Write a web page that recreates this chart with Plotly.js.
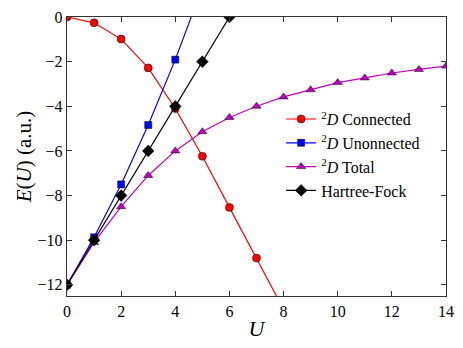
<!DOCTYPE html>
<html>
<head>
<meta charset="utf-8">
<script src="https://cdn.plot.ly/plotly-3.0.1.min.js"></script>
<style>
  body { margin: 0; background: #fff; }
  #grafico { width: 463px; height: 348px; }
</style>
</head>
<body>
<div id="grafico"></div>
<script>
  // valores
  let U = [0, 1, 2, 3, 4, 5, 6, 7, 8, 9, 10, 11, 12, 13, 14];

  let uConectado = [0, 1, 2, 3, 4, 5, 6, 7, 8];
  let eConectado = [0, -0.26, -0.99, -2.28, -4.1, -6.24, -8.53, -10.8, -13.1];

  let uNoConectado = [0, 1, 2, 3, 4, 5];
  let eNoConectado = [-12, -9.87, -7.5, -4.84, -1.91, 1.33];

  let eTotal = [-12, -10.1, -8.5, -7.1, -6.0, -5.14, -4.5, -4.0, -3.58, -3.26, -2.94, -2.73, -2.51, -2.35, -2.2];

  let uHF = [0, 1, 2, 3, 4, 5, 6];
  let eHF = [-12, -10, -8, -6, -4, -2, 0];

  let xTicks = [0, 2, 4, 6, 8, 10, 12, 14];
  let yTicks = [0, -2, -4, -6, -8, -10, -12];

  let fuente = '"Liberation Serif", "Times New Roman", serif';

  function traza(x, y, nombre, color, simbolo, tam) {
    return {
      x: x,
      y: y,
      mode: 'lines+markers',
      type: 'scatter',
      name: nombre,
      line: { color: color, width: 1.2 },
      marker: { color: color, symbol: simbolo, size: tam, line: { color: '#000', width: 0.5 } }
    };
  }

  let trazas = [
    traza(uConectado, eConectado, '<sup>2</sup><i>D</i> Connected', '#ff0000', 'circle', 8),
    traza(uNoConectado, eNoConectado, '<sup>2</sup><i>D</i> Unonnected', '#0000ff', 'square', 7),
    traza(U, eTotal, '<sup>2</sup><i>D</i> Total', '#bf00bf', 'triangle-up', 8),
    traza(uHF, eHF, 'Hartree-Fock', '#000000', 'diamond', 9)
  ];

  let ejeBase = {
    showline: true,
    linecolor: '#333',
    linewidth: 1.3,
    mirror: 'ticks',
    ticks: 'inside',
    ticklen: 5,
    tickcolor: '#333',
    showgrid: false,
    zeroline: false,
    tickfont: { family: fuente, size: 16, color: '#000' }
  };

  let layout = {
    width: 463,
    height: 348,
    margin: { l: 67, r: 17, t: 17, b: 52 },
    paper_bgcolor: '#fff',
    plot_bgcolor: '#fff',
    font: { family: fuente, color: '#000' },
    showlegend: true,
    legend: {
      x: 0.565, y: 0.695, xanchor: 'left', yanchor: 'top',
      bgcolor: 'rgba(255,255,255,0)',
      font: { family: fuente, size: 16, color: '#000' }
    },
    xaxis: Object.assign({}, ejeBase, {
      range: [0, 14],
      tickvals: xTicks,
      title: { text: '<i>U</i>', font: { family: fuente, size: 22 }, standoff: 2 }
    }),
    yaxis: Object.assign({}, ejeBase, {
      range: [-12.5, 0],
      tickvals: yTicks,
      title: { text: '<i>E</i>(<i>U</i>) (a.u.)', font: { family: fuente, size: 21 }, standoff: 0 }
    })
  };

  Plotly.newPlot('grafico', trazas, layout, { displayModeBar: false, staticPlot: true });
</script>
</body>
</html>
